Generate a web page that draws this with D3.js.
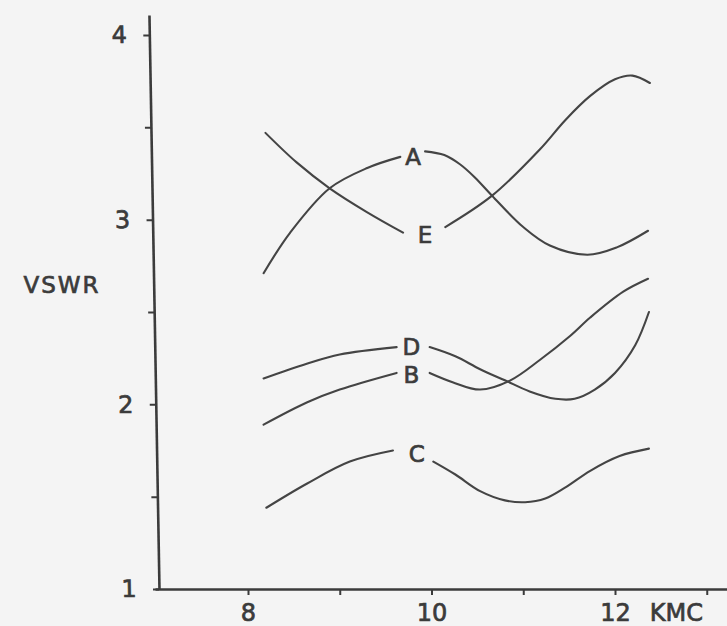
<!DOCTYPE html>
<html>
<head>
<meta charset="utf-8">
<script src="https://cdn.jsdelivr.net/npm/d3@7"></script>
<style>
  body { margin: 0; background: #f4f4f4; }
  svg { display: block; }
</style>
</head>
<body>
<script>
'use strict';

// curve values (null = gap where the letter sits)
const freqA = [8.17, 8.46, 8.89, 9.30, 9.66, 9.80, 9.93, 10.14, 10.31, 10.47, 10.66, 11.00, 11.29, 11.70, 12.02, 12.36];
const vswrA = [2.71, 2.93, 3.17, 3.28, 3.34, null, 3.37, 3.35, 3.30, 3.23, 3.13, 2.96, 2.86, 2.81, 2.85, 2.94];

const freqE = [8.19, 8.53, 8.89, 9.30, 9.69, 9.93, 10.15, 10.66, 11.18, 11.46, 11.73, 12.00, 12.19, 12.38];
const vswrE = [3.47, 3.31, 3.17, 3.04, 2.93, null, 2.96, 3.13, 3.38, 3.54, 3.67, 3.76, 3.78, 3.74];

const freqD = [8.17, 8.64, 9.00, 9.62, 9.80, 9.98, 10.26, 10.53, 10.80, 11.07, 11.35, 11.56, 11.78, 12.00, 12.22, 12.37];
const vswrD = [2.14, 2.22, 2.27, 2.31, null, 2.31, 2.26, 2.19, 2.13, 2.07, 2.03, 2.03, 2.08, 2.17, 2.32, 2.50];

const freqB = [8.17, 8.64, 9.00, 9.62, 9.80, 9.98, 10.23, 10.53, 10.86, 11.18, 11.51, 11.73, 12.09, 12.36];
const vswrB = [1.89, 2.01, 2.08, 2.17, null, 2.17, 2.12, 2.08, 2.13, 2.24, 2.37, 2.47, 2.61, 2.68];

const freqC = [8.20, 8.64, 9.11, 9.58, 9.84, 10.02, 10.26, 10.53, 10.80, 11.02, 11.24, 11.46, 11.73, 12.05, 12.37];
const vswrC = [1.44, 1.57, 1.69, 1.75, null, 1.69, 1.62, 1.53, 1.48, 1.47, 1.49, 1.55, 1.64, 1.72, 1.76];

const curveNames = ["A", "E", "D", "B", "C"];
const labelFreq = [9.80, 9.93, 9.78, 9.78, 9.84];
const labelVswr = [3.34, 2.92, 2.31, 2.16, 1.73];

const xTicks = [8, 9, 10, 11, 12, 13];
const xTickLabels = ["8", "", "10", "", "12", ""];
const yTicks = [1, 1.5, 2, 2.5, 3, 3.5, 4];
const yTickLabels = ["1", "", "2", "", "3", "", "4"];

const width = 727, height = 626;
const ink = "#3b3b3b";
const font = "'DejaVu Sans', sans-serif";

const svg = d3.select("body").append("svg")
    .attr("width", width)
    .attr("height", height);

svg.append("rect")
    .attr("width", width)
    .attr("height", height)
    .attr("fill", "#f4f4f4");

const x = d3.scaleLinear().domain([8, 12]).range([248, 615]);
const y = d3.scaleLinear().domain([1, 4]).range([589, 35]);

// lettering is drawn with a thin outline to get the pen weight of the original
function letter(sel, size) {
    sel.attr("fill", ink)
        .attr("stroke", ink)
        .attr("stroke-width", 0.7)
        .style("font-family", font)
        .style("font-size", size + "px");
}

// x axis (line runs from the y axis to the right edge)
const xAxisScale = d3.scaleLinear()
    .domain([x.invert(155), x.invert(width)])
    .range([155, width]);

const xAxis = svg.append("g")
    .attr("transform", "translate(0," + y(1) + ")")
    .call(d3.axisBottom(xAxisScale)
        .tickValues(xTicks)
        .tickSize(6)
        .tickSizeOuter(0)
        .tickFormat((d, i) => xTickLabels[i]));
xAxis.select(".domain").attr("stroke", ink).attr("stroke-width", 2.6);
xAxis.selectAll(".tick line").attr("stroke", ink).attr("stroke-width", 2);
xAxis.selectAll(".tick text")
    .attr("y", 24)
    .attr("dy", "0.35em")
    .call(letter, 24);

svg.append("text")
    .attr("x", x(12.67))
    .attr("y", y(1) + 24)
    .attr("dy", "0.35em")
    .attr("text-anchor", "middle")
    .call(letter, 24)
    .text("KMC");

// y axis, slightly leaning like the hand-drawn original
const yAxisScale = d3.scaleLinear()
    .domain([1, y.invert(15)])
    .range([y(1), 15]);

const yAxis = svg.append("g")
    .attr("transform", "translate(148.7,0) skewX(1)")
    .call(d3.axisLeft(yAxisScale)
        .tickValues(yTicks)
        .tickSize(6)
        .tickSizeOuter(0)
        .tickFormat((d, i) => yTickLabels[i]));
yAxis.select(".domain").attr("stroke", ink).attr("stroke-width", 2.6);
yAxis.selectAll(".tick line").attr("stroke", ink).attr("stroke-width", 2);
yAxis.selectAll(".tick text")
    .attr("x", -30)
    .attr("text-anchor", "middle")
    .call(letter, 24);

svg.append("text")
    .attr("x", 62)
    .attr("y", 285)
    .attr("dy", "0.35em")
    .attr("text-anchor", "middle")
    .style("letter-spacing", "2px")
    .call(letter, 23)
    .text("VSWR");

// curves
const series = [
    { f: freqA, v: vswrA },
    { f: freqE, v: vswrE },
    { f: freqD, v: vswrD },
    { f: freqB, v: vswrB },
    { f: freqC, v: vswrC }
];

const line = d3.line()
    .defined(d => d.v !== null)
    .x(d => x(d.f))
    .y(d => y(d.v))
    .curve(d3.curveCatmullRom.alpha(0.5));

svg.selectAll(".curve")
    .data(series)
    .enter()
    .append("path")
        .attr("class", "curve")
        .attr("fill", "none")
        .attr("stroke", "#444")
        .attr("stroke-width", 2.1)
        .attr("stroke-linecap", "round")
        .attr("d", s => line(s.f.map((f, i) => ({ f: f, v: s.v[i] }))));

svg.selectAll(".curve-label")
    .data(curveNames)
    .enter()
    .append("text")
        .attr("class", "curve-label")
        .attr("x", (d, i) => x(labelFreq[i]))
        .attr("y", (d, i) => y(labelVswr[i]))
        .attr("dy", "0.36em")
        .attr("text-anchor", "middle")
        .call(letter, 23)
        .text(d => d);
</script>
</body>
</html>
